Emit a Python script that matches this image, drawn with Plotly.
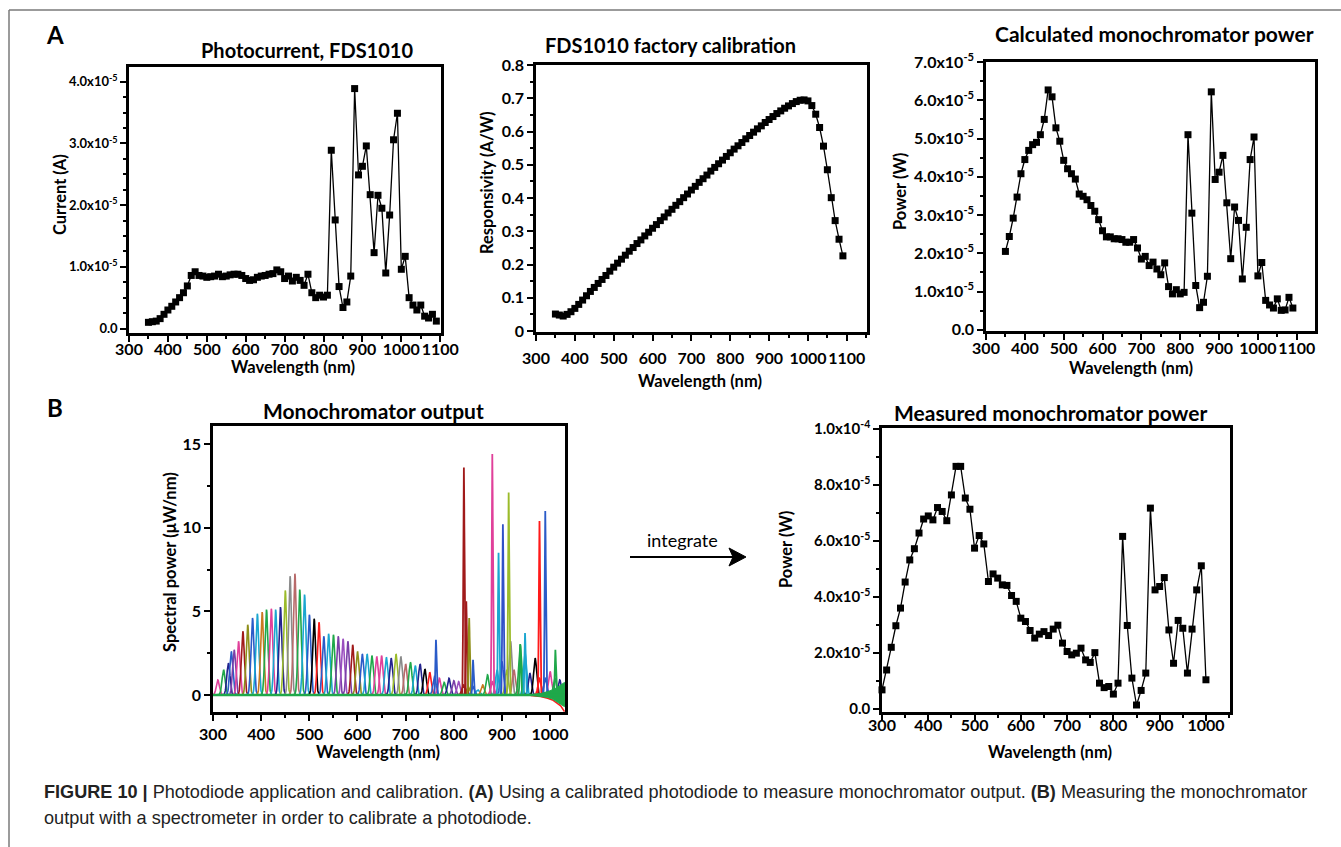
import numpy as np
import plotly.graph_objects as go

W, H = 1341, 847
FONT = "Lato"

# ---------------- data ----------------
wl_a = list(range(350, 1100, 10))  # 350..1090 nm

photocurrent_e5 = [0.10, 0.11, 0.12, 0.16, 0.23, 0.30, 0.36, 0.43, 0.50, 0.58, 0.69, 0.86,
                   0.92, 0.86, 0.85, 0.83, 0.84, 0.85, 0.88, 0.84, 0.85, 0.87, 0.88,
                   0.88, 0.86, 0.81, 0.78, 0.79, 0.83, 0.85, 0.86, 0.88, 0.89, 0.95, 0.92,
                   0.81, 0.85, 0.77, 0.83, 0.78, 0.70, 0.88, 0.58, 0.50, 0.54, 0.51, 0.54,
                   2.89, 1.76, 0.68, 0.34, 0.43, 0.85, 3.89, 2.49, 2.63, 2.96, 2.17, 1.23,
                   2.16, 1.95, 0.90, 1.84, 3.06, 3.49, 0.96, 1.17, 0.50, 0.38, 0.30, 0.38,
                   0.20, 0.17, 0.23, 0.12]

responsivity = [0.051, 0.048, 0.045, 0.050, 0.058, 0.068, 0.080, 0.093, 0.106, 0.119,
                0.131, 0.143, 0.155, 0.167, 0.180, 0.192, 0.204, 0.216, 0.228, 0.240,
                0.251, 0.263, 0.274, 0.286, 0.297, 0.309, 0.320, 0.332, 0.343, 0.355,
                0.366, 0.378, 0.389, 0.401, 0.412, 0.424, 0.435, 0.447, 0.458, 0.469,
                0.481, 0.492, 0.503, 0.514, 0.525, 0.536, 0.547, 0.557, 0.567, 0.578,
                0.588, 0.598, 0.608, 0.617, 0.627, 0.636, 0.645, 0.654, 0.662, 0.670,
                0.677, 0.684, 0.690, 0.694, 0.695, 0.692, 0.678, 0.652, 0.612, 0.556,
                0.485, 0.401, 0.332, 0.276, 0.226]

calc_power_e5 = [2.05, 2.44, 2.92, 3.47, 4.08, 4.45, 4.69, 4.84, 4.90, 5.10, 5.50, 6.27,
                 6.09, 5.28, 4.93, 4.43, 4.21, 4.08, 3.94, 3.55, 3.49, 3.40, 3.25,
                 3.10, 2.88, 2.59, 2.43, 2.43, 2.38, 2.38, 2.36, 2.29, 2.29, 2.36, 2.14,
                 1.85, 1.92, 1.68, 1.77, 1.59, 1.44, 1.75, 1.13, 0.94, 1.05, 0.94, 0.98,
                 5.10, 3.05, 1.16, 0.58, 0.72, 1.40, 6.22, 3.93, 4.12, 4.56, 3.32, 1.86,
                 3.21, 2.86, 1.33, 2.68, 4.45, 5.04, 1.41, 1.76, 0.77, 0.65, 0.57, 0.81,
                 0.51, 0.52, 0.85, 0.57]

wl_b = list(range(300, 1010, 10))  # 300..1000 nm
meas_power_e5 = [0.69, 1.40, 2.21, 2.98, 3.61, 4.54, 5.33, 5.73, 6.29, 6.79, 6.90, 6.76,
                 7.20, 7.06, 6.73, 7.65, 8.67, 8.67, 7.54, 7.14, 5.75, 6.20, 5.90, 4.56,
                 4.83, 4.68, 4.44, 4.42, 4.06, 3.85, 3.25, 3.13, 2.81, 2.54, 2.68, 2.77,
                 2.63, 2.86, 3.00, 2.36, 2.06, 1.94, 2.00, 2.18, 1.76, 1.67, 2.02, 0.93,
                 0.77, 0.81, 0.54, 0.93, 6.17, 2.99, 1.11, 0.15, 0.67, 1.29, 7.18, 4.26,
                 4.38, 4.70, 2.83, 1.64, 3.17, 2.89, 1.29, 2.86, 4.26, 5.12, 1.05]

# monochromator output spectra: broad band of each setting (centre nm, peak uW/nm)
broad_center = [310, 322, 332, 338, 344, 353, 362, 372, 382, 392,
                402, 411, 421, 430, 440, 450, 460, 470, 480, 490,
                500, 510, 520, 530, 540, 550, 560, 570, 580, 590,
                600, 610, 620, 630, 640, 650, 660, 670, 680, 690,
                700, 710, 720, 730, 740, 750, 760, 770, 780, 790,
                800, 810, 820, 830, 840, 850, 860, 870, 880, 890, 900, 910,
                918, 925, 938, 948, 958, 969, 978, 990, 1000, 1010, 1020]
broad_height = [0.9, 1.5, 1.9, 2.6, 2.7, 3.2, 3.8, 4.2, 4.6, 4.85,
                4.95, 5.1, 5.15, 5.1, 5.25, 6.25, 7.1, 7.25, 6.3, 6.0,
                4.8, 4.55, 4.35, 3.5, 3.65, 3.6, 3.5, 3.35, 3.2, 3.0,
                2.6, 2.45, 2.45, 2.35, 2.3, 2.35, 2.25, 2.2, 2.45, 2.3,
                1.85, 1.95, 1.75, 1.85, 1.55, 1.35, 1.1, 1.0, 0.75, 1.0,
                0.85, 0.8, 0.6, 0.5, 0.5, 0.3, 0.6, 1.2, 0.8, 1.5, 2.0, 1.5,
                3.2, 1.5, 3.0, 2.5, 1.3, 2.2, 1.0, 1.0, 1.4, 1.0, 0.9]
# sharp lamp lines (centre nm, peak uW/nm)
sharp_center = [763, 821, 826, 832, 840, 880, 893, 902, 914, 938, 948, 978, 990, 1011]
sharp_height = [3.3, 13.6, 5.6, 4.6, 2.1, 14.4, 8.5, 10.2, 12.1, 3.05, 3.7, 10.4, 11.0, 2.7]
# detector noise fan at long wavelengths
noise_x = [960, 980, 995, 1005, 1015, 1022, 1030]
noise_hi = [0.02, 0.08, 0.2, 0.3, 0.45, 0.6, 0.75]
noise_lo = [-0.02, -0.08, -0.15, -0.25, -0.4, -0.55, -0.7]
noise_red = [-0.03, -0.1, -0.2, -0.3, -0.5, -0.65, -1.0]

# ---------------- styles ----------------
MAG, GRN, NAV, PUR, VIO = "#e0409a", "#1fa84a", "#23238e", "#7b3fa8", "#9b4fc0"
DRD, OLV, BLU, CYN, ORG = "#a01a1a", "#8f8f1a", "#2a5bc8", "#1aa6d0", "#c87a20"
YGR, GRY, ROS, BLK, RED = "#9bbb2a", "#8a8a8a", "#b86a6a", "#000000", "#ff1a1a"
broad_colors = [MAG, GRN, NAV, BLU, PUR, MAG, DRD, OLV, BLU, CYN,
                ORG, GRN, MAG, CYN, NAV, YGR, GRY, ROS, GRN, CYN,
                BLU, BLK, RED, BLU, CYN, GRN, PUR, VIO, PUR, DRD,
                OLV, BLU, CYN, GRN, MAG, MAG, CYN, NAV, YGR, GRY,
                ROS, GRN, CYN, NAV, BLK, RED, BLU, MAG, GRN, NAV,
                PUR, VIO, DRD, OLV, BLU, CYN, ORG, GRN, MAG, CYN, BLU, YGR,
                GRY, ROS, GRN, CYN, NAV, BLK, RED, BLU, MAG, GRN, NAV]
sharp_colors = [BLU, DRD, DRD, OLV, BLU, MAG, CYN, "#3050c8", YGR, GRN, CYN, RED, BLU, GRN]

fig = go.Figure()

def marker_trace(x, y, xa, ya):
    fig.add_trace(go.Scatter(x=x, y=y, xaxis=xa, yaxis=ya, mode="lines+markers",
                             line=dict(color="black", width=1.3),
                             marker=dict(symbol="square", size=7, color="black"),
                             cliponaxis=False, showlegend=False, hoverinfo="x+y"))

marker_trace(wl_a, [v * 1e-5 for v in photocurrent_e5], "x", "y")
marker_trace(wl_a, responsivity, "x2", "y2")
marker_trace(wl_a, [v * 1e-5 for v in calc_power_e5], "x3", "y3")
marker_trace(wl_b, [v * 1e-5 for v in meas_power_e5], "x5", "y5")

def band(c, h, sigma, color, width):
    xs = np.arange(c - 5 * sigma, c + 5 * sigma + 0.01, sigma / 8)
    ys = h * np.exp(-0.5 * ((xs - c) / sigma) ** 2)
    fig.add_trace(go.Scatter(x=xs, y=ys, xaxis="x4", yaxis="y4", mode="lines",
                             line=dict(color=color, width=width), showlegend=False,
                             hoverinfo="skip"))

for c, h, col in zip(broad_center, broad_height, broad_colors):
    band(c, h, 3.2, col, 1.6)
for c, h, col in zip(sharp_center, sharp_height, sharp_colors):
    band(c, h, 1.2, col, 1.8)

# noise fan + baseline
fig.add_trace(go.Scatter(x=noise_x, y=noise_red, xaxis="x4", yaxis="y4", mode="lines",
                         line=dict(color=RED, width=1.5), showlegend=False, hoverinfo="skip"))
fig.add_trace(go.Scatter(x=noise_x + noise_x[::-1], y=noise_hi + noise_lo[::-1],
                         xaxis="x4", yaxis="y4", mode="lines", fill="toself",
                         fillcolor=GRN, line=dict(color=GRN, width=1), showlegend=False,
                         hoverinfo="skip"))
fig.add_trace(go.Scatter(x=[300, 1030], y=[0, 0], xaxis="x4", yaxis="y4", mode="lines",
                         line=dict(color=GRN, width=2.5), showlegend=False, hoverinfo="skip"))

# ---------------- layout ----------------
def dx(a, b):
    return [a / W, b / W]

def dy(top, bottom):
    return [1 - bottom / H, 1 - top / H]

def bold_font(size):
    return dict(family=FONT, size=size, color="black", weight="bold")

def axis(domain, rng, anchor, size, dtick=None, minor_dtick=None, tickvals=None,
         ticktext=None, standoff=0):
    d = dict(domain=domain, range=rng, anchor=anchor, showline=True, linewidth=2.5,
             linecolor="black", mirror=True, ticks="outside", ticklen=6, tickwidth=2,
             tickcolor="black", showgrid=False, zeroline=False, tickfont=bold_font(size),
             tickangle=0, automargin=False, fixedrange=True, ticklabelstandoff=standoff)
    if tickvals is not None:
        d.update(tickmode="array", tickvals=tickvals, ticktext=ticktext)
    else:
        d.update(tick0=0, dtick=dtick)
    if minor_dtick is not None:
        d["minor"] = dict(ticks="outside", ticklen=3, tickwidth=2, tickcolor="black",
                          tick0=0, dtick=minor_dtick, showgrid=False)
    return d

def sci(vals, exp):
    out = []
    for v in vals:
        if v == 0:
            out.append("0.0")
        else:
            out.append("%.1fx10<sup>-%d</sup>" % (v, exp))
    return out

layout = dict(
    width=W, height=H, autosize=False,
    margin=dict(l=0, r=0, t=0, b=0, pad=0, autoexpand=False),
    paper_bgcolor="white", plot_bgcolor="white", showlegend=False,
    xaxis=axis(dx(129, 441), [300, 1102], "y", 16, dtick=100, minor_dtick=50, standoff=-6),
    yaxis=axis(dy(67, 333), [-0.073e-5, 4.24e-5], "x", 13, minor_dtick=0.25e-5,
               tickvals=[0, 1e-5, 2e-5, 3e-5, 4e-5], ticktext=sci([0, 1, 2, 3, 4], 5)),
    xaxis2=axis(dx(536, 867), [300, 1152], "y2", 16, dtick=100, minor_dtick=50, standoff=4),
    yaxis2=axis(dy(65, 332), [-0.003, 0.8], "x2", 16, dtick=0.1, minor_dtick=0.05),
    xaxis3=axis(dx(986, 1315), [300, 1147], "y3", 16, dtick=100, minor_dtick=50, standoff=-5),
    yaxis3=axis(dy(62, 331), [-0.03e-5, 7.0e-5], "x3", 16, minor_dtick=0.5e-5,
                tickvals=[i * 1e-5 for i in range(8)], ticktext=sci(list(range(8)), 5)),
    xaxis4=axis(dx(213, 565), [300, 1031], "y4", 16, dtick=100, minor_dtick=50),
    yaxis4=axis(dy(426, 712), [-1.02, 16.08], "x4", 16, dtick=5, minor_dtick=2.5),
    xaxis5=axis(dx(882, 1230), [300, 1052], "y5", 16, dtick=100, minor_dtick=50, standoff=-9),
    yaxis5=axis(dy(428, 712), [-0.1e-5, 10.04e-5], "x5", 15, minor_dtick=1e-5,
                tickvals=[0, 2e-5, 4e-5, 6e-5, 8e-5, 1e-4],
                ticktext=["0.0", "2.0x10<sup>-5</sup>", "4.0x10<sup>-5</sup>",
                          "6.0x10<sup>-5</sup>", "8.0x10<sup>-5</sup>", "1.0x10<sup>-4</sup>"]),
)
fig.update_layout(**layout)

ann = []

def txt(xp, yp, text, size, bold=True, angle=0, xanchor="center", family=FONT, color="black"):
    ann.append(dict(x=xp / W, y=1 - yp / H, xref="paper", yref="paper", text=text,
                    showarrow=False, textangle=angle, xanchor=xanchor, yanchor="middle",
                    font=dict(family=family, size=size, color=color,
                              weight="bold" if bold else "normal")))

# panel letters
txt(55, 35, "A", 24)
txt(55, 408, "B", 24)
# titles
txt(307, 50, "Photocurrent, FDS1010", 20)
txt(670, 45, "FDS1010 factory calibration", 20)
txt(1154, 33, "Calculated monochromator power", 21)
txt(373, 410, "Monochromator output", 21)
txt(1050, 412, "Measured monochromator power", 21)
# axis titles
for xc, yc in [(293, 367), (700, 381), (1131, 368), (378, 752), (1050, 752)]:
    txt(xc, yc, "Wavelength (nm)", 16.5)
txt(60, 195, "Current (A)", 16.5, angle=-90)
txt(487, 183, "Responsivity (A/W)", 16.5, angle=-90)
txt(900, 192, "Power (W)", 16.5, angle=-90)
txt(170, 562, "Spectral power (\u03bcW/nm)", 16.5, angle=-90)
txt(786, 550, "Power (W)", 16.5, angle=-90)
# integrate arrow text
txt(683, 540, "integrate", 18, bold=False)
# caption
CAP = "Liberation Sans"
txt(42, 792, "<b>FIGURE 10 |</b> Photodiode application and calibration. <b>(A)</b> Using a calibrated "
             "photodiode to measure monochromator output. <b>(B)</b> Measuring the monochromator",
    18.1, bold=False, xanchor="left", family=CAP, color="#222222")
txt(42, 818, "output with a spectrometer in order to calibrate a photodiode.",
    18.1, bold=False, xanchor="left", family=CAP, color="#222222")

fig.update_layout(annotations=ann)

def px(xp, yp):
    return xp / W, 1 - yp / H

shapes = []
x0, y0 = px(9, 10)
x1, y1 = px(1341, 10)
shapes.append(dict(type="line", xref="paper", yref="paper", x0=x0, y0=y0, x1=x1, y1=y1,
                   line=dict(color="#7a7a7a", width=1.5)))
x1, y1 = px(9, 847)
shapes.append(dict(type="line", xref="paper", yref="paper", x0=x0, y0=y0, x1=x1, y1=y1,
                   line=dict(color="#7a7a7a", width=1.5)))
# arrow
ax0, ay0 = px(630, 557)
ax1, ay1 = px(733, 557)
shapes.append(dict(type="line", xref="paper", yref="paper", x0=ax0, y0=ay0, x1=ax1, y1=ay1,
                   line=dict(color="black", width=2)))
p1 = px(729, 548)
p2 = px(746, 557)
p3 = px(729, 566)
p4 = px(733, 557)
path = "M %f,%f L %f,%f L %f,%f L %f,%f Z" % (p1[0], p1[1], p2[0], p2[1], p3[0], p3[1], p4[0], p4[1])
shapes.append(dict(type="path", xref="paper", yref="paper", path=path,
                   fillcolor="black", line=dict(color="black", width=1)))
fig.update_layout(shapes=shapes)

fig.write_html("out.html", config={"displayModeBar": False},
               post_script="document.body.style.margin='0px';"
                           "document.body.style.overflow='hidden';")
